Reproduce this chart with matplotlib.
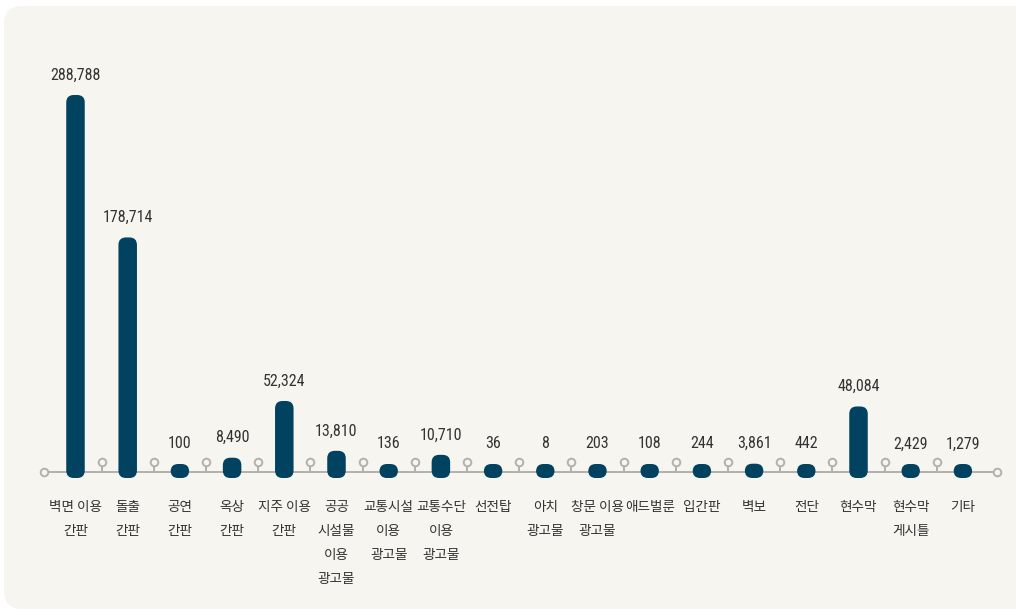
import matplotlib.pyplot as plt
from matplotlib import font_manager
from matplotlib.patches import FancyBboxPatch

# 광고물 종류별 건수
categories = ['벽면 이용\n간판', '돌출\n간판', '공연\n간판', '옥상\n간판', '지주 이용\n간판',
              '공공\n시설물\n이용\n광고물', '교통시설\n이용\n광고물', '교통수단\n이용\n광고물',
              '선전탑', '아치\n광고물', '창문 이용\n광고물', '애드벌룬', '입간판', '벽보',
              '전단', '현수막', '현수막\n게시틀', '기타']
values = [288788, 178714, 100, 8490, 52324, 13810, 136, 10710, 36, 8, 203, 108,
          244, 3861, 442, 48084, 2429, 1279]

W, H = 1016, 615
bar_color = '#00425f'
line_color = '#b3b1ad'
bg_color = '#f6f5f0'
text_color = '#333333'
kr_font = ['Noto Sans CJK KR', 'DejaVu Sans']

# pick a narrow font for the numbers if one is installed
fonts = font_manager.fontManager.ttflist
names = {f.name for f in fonts}
num_font, num_stretch, num_size = ['DejaVu Sans'], 'normal', 10.5
for cand in ['Roboto Condensed', 'Liberation Sans Narrow', 'Open Sans Condensed',
             'Noto Sans Condensed', 'DejaVu Sans Condensed']:
    if cand in names:
        num_font, num_size = [cand, 'DejaVu Sans'], 11.5
        break
else:
    for f in fonts:
        if f.stretch in ('condensed', 'semi-condensed') and f.name in ('DejaVu Sans', 'Roboto', 'Noto Sans', 'Open Sans'):
            num_font, num_stretch, num_size = [f.name, 'DejaVu Sans'], f.stretch, 11.5
            break

fig = plt.figure(figsize=(W / 100, H / 100), dpi=100)
fig.patch.set_facecolor('white')

# background panel
bg = fig.add_axes([0, 0, 1, 1])
bg.set_xlim(0, W)
bg.set_ylim(H, 0)
bg.axis('off')
bg.add_patch(FancyBboxPatch((4, 6), 1040, 603, boxstyle='round,pad=0,rounding_size=18',
                            facecolor=bg_color, edgecolor='none'))

# main axes: x = category index, y = value
x0, dx = 75.5, 52.2          # pixel of first bar, pixels per category
base = 471.5                 # baseline pixel (from top)
upp = 288788 / 373.7         # value units per pixel
ax = fig.add_axes([0, 0, 1, 1])
ax.set_xlim(-x0 / dx, (W - x0) / dx)
ax.set_ylim(-(H - base) * upp, base * upp)
ax.axis('off')
ax.patch.set_alpha(0)

n = len(values)
bw = 18.5 / dx
for i, v in enumerate(values):
    bottom = -6.5 * upp
    top = max(v + 2.8 * upp, 7.5 * upp)
    ax.add_patch(FancyBboxPatch((i - bw / 2, bottom), bw, top - bottom,
                                boxstyle='round,pad=0,rounding_size=%f' % (7.5 / dx),
                                mutation_aspect=upp * dx,
                                facecolor=bar_color, edgecolor='none', zorder=3))
    ax.text(i, top + 12.5 * upp, f'{v:,}', ha='center', va='bottom', fontsize=num_size,
            family=num_font, fontstretch=num_stretch, color=text_color, zorder=4)
    ax.text(i, -29 * upp, categories[i], ha='center', va='top', fontsize=9.8,
            family=kr_font, color=text_color, linespacing=1.9, zorder=4)

# baseline with pins
left_end, right_end = -0.6, n - 1 + 0.65
ax.plot([left_end, right_end], [0, 0], color=line_color, lw=1.4, zorder=2)
pins = [i + 0.5 for i in range(n - 1)]
pin_h = 9.8 * upp
ax.vlines(pins, 0, pin_h - 3 * upp, color=line_color, lw=1.4, zorder=2)
ax.scatter(pins, [pin_h] * len(pins), s=30, facecolor=bg_color, edgecolor=line_color,
           linewidth=1.4, zorder=2)
ax.scatter([left_end, right_end], [0, 0], s=30, facecolor=bg_color, edgecolor=line_color,
           linewidth=1.4, zorder=2)

fig.savefig('out.png', dpi=100)
